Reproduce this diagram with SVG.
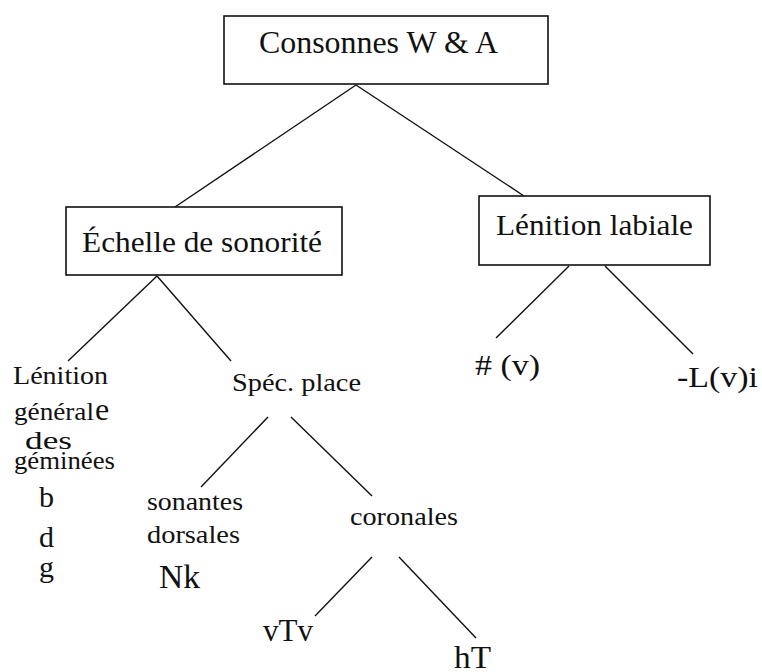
<svg xmlns="http://www.w3.org/2000/svg" width="762" height="672" viewBox="0 0 762 672">
  <style>
    .box { fill: #ffffff; stroke: #111111; stroke-width: 1.6; }
    .edge { stroke: #111111; stroke-width: 1.4; fill: none; }
    .t { font-family: "Liberation Serif", "Times New Roman", serif; fill: #111111; }
    .big { font-size: 30px; }
    .mid { font-size: 26px; }
    .let { font-size: 30px; }
  </style>
  <rect width="762" height="672" fill="#ffffff"/>

  <!-- tree edges -->
  <g id="connectors">
    <line class="edge" x1="356" y1="85" x2="175" y2="207"/>
    <line class="edge" x1="356" y1="85" x2="524" y2="196"/>
    <line class="edge" x1="157" y1="276" x2="68" y2="361"/>
    <line class="edge" x1="157" y1="276" x2="231" y2="361"/>
    <line class="edge" x1="569" y1="266" x2="496" y2="338"/>
    <line class="edge" x1="605" y1="266" x2="693" y2="354"/>
    <line class="edge" x1="268" y1="417" x2="201" y2="487"/>
    <line class="edge" x1="291" y1="417" x2="372" y2="496"/>
    <line class="edge" x1="372" y1="557" x2="315" y2="616"/>
    <line class="edge" x1="399" y1="557" x2="476" y2="638"/>
  </g>

  <!-- root -->
  <g id="consonnes">
    <rect class="box" x="224" y="16" width="324" height="68"/>
    <text class="t" x="259" y="53" font-size="31" textLength="239" lengthAdjust="spacingAndGlyphs">Consonnes W &amp; A</text>
  </g>

  <g id="echelle">
    <rect class="box" x="66" y="207" width="276" height="68"/>
    <text class="t big" x="82" y="252" textLength="240" lengthAdjust="spacingAndGlyphs">Échelle de sonorité</text>
  </g>

  <g id="lenition-labiale">
    <rect class="box" x="479" y="196" width="231" height="69"/>
    <text class="t big" x="496" y="235" textLength="197" lengthAdjust="spacingAndGlyphs">Lénition labiale</text>
  </g>

  <!-- left branch -->
  <g id="lenition-generale">
    <text class="t mid" x="13" y="384" textLength="95" lengthAdjust="spacingAndGlyphs">Lénition</text>
    <text class="t mid" x="14" y="420" textLength="80" lengthAdjust="spacingAndGlyphs">général</text>
    <text class="t" x="95" y="420" font-size="32">e</text>
    <text class="t" x="25" y="449" font-size="25" textLength="47" lengthAdjust="spacingAndGlyphs">des</text>
    <text class="t mid" x="14" y="469" textLength="101" lengthAdjust="spacingAndGlyphs">géminées</text>
  </g>

  <g id="bdg">
    <text class="t let" x="39" y="507">b</text>
    <text class="t let" x="39" y="547">d</text>
    <text class="t let" x="39" y="577">g</text>
  </g>

  <g id="spec-place">
    <text class="t mid" x="232" y="391" textLength="129" lengthAdjust="spacingAndGlyphs">Spéc. place</text>
  </g>

  <g id="sonantes-dorsales">
    <text class="t mid" x="147" y="510" textLength="96" lengthAdjust="spacingAndGlyphs">sonantes</text>
    <text class="t mid" x="147" y="543" textLength="93" lengthAdjust="spacingAndGlyphs">dorsales</text>
  </g>

  <g id="nk">
    <text class="t" x="159" y="588" font-size="33" textLength="41" lengthAdjust="spacingAndGlyphs">Nk</text>
  </g>

  <g id="coronales">
    <text class="t mid" x="350" y="525" textLength="108" lengthAdjust="spacingAndGlyphs">coronales</text>
  </g>

  <g id="vtv">
    <text class="t" x="263" y="641" font-size="31" textLength="50" lengthAdjust="spacingAndGlyphs">vTv</text>
  </g>

  <g id="ht">
    <text class="t" x="454" y="668" font-size="31" textLength="37" lengthAdjust="spacingAndGlyphs">hT</text>
  </g>

  <!-- right branch -->
  <g id="initial-v">
    <text class="t big" x="475" y="375" textLength="65" lengthAdjust="spacingAndGlyphs"># (v)</text>
  </g>

  <g id="l-v-i">
    <text class="t big" x="677" y="387" textLength="81" lengthAdjust="spacingAndGlyphs">-L(v)i</text>
  </g>
</svg>
